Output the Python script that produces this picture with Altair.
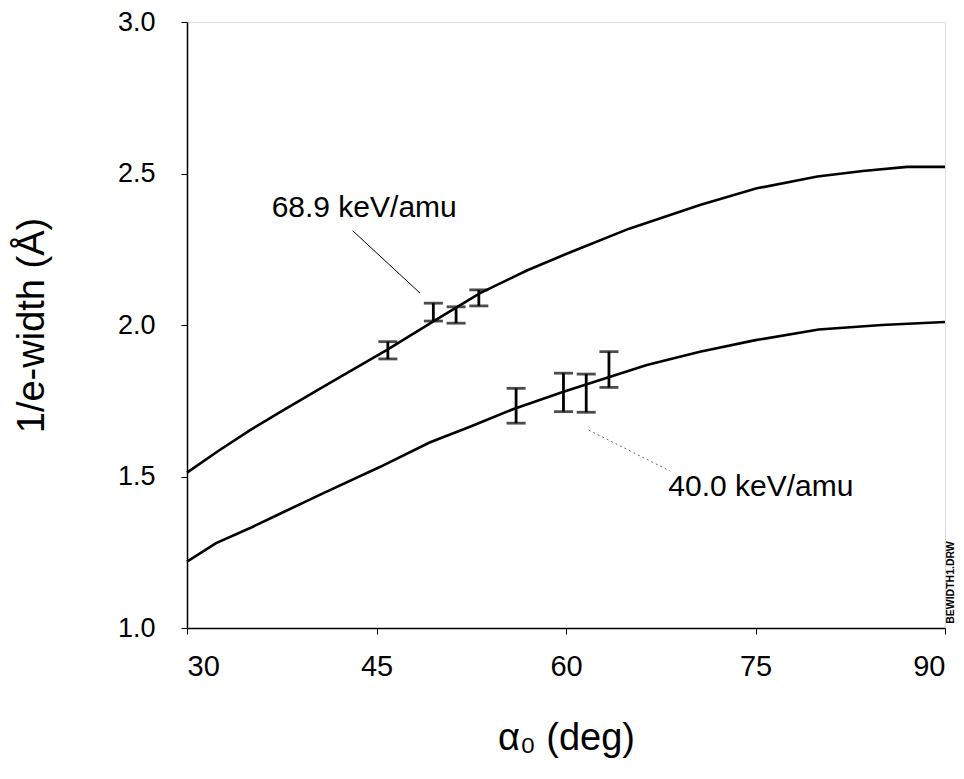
import altair as alt
import pandas as pd

# 68.9 keV/amu curve
hi_angle = [30, 32.5, 35, 37.5, 40.5, 43.4, 45.8, 49.5, 53.2, 56.9, 60.1, 65, 70.6, 75.1, 79.9, 83.5, 87.0, 90]
hi_width = [1.513, 1.585, 1.653, 1.716, 1.789, 1.859, 1.917, 2.012, 2.105, 2.18, 2.236, 2.318, 2.396, 2.451, 2.49, 2.508, 2.522, 2.522]

# 40.0 keV/amu curve
lo_angle = [30, 32.3, 35, 37.4, 40.8, 45.3, 49.2, 52.4, 55.8, 59.8, 63.5, 66.4, 70.6, 75, 80, 85, 90]
lo_width = [1.219, 1.28, 1.33, 1.378, 1.445, 1.532, 1.612, 1.664, 1.722, 1.78, 1.829, 1.868, 1.912, 1.95, 1.985, 2.0, 2.01]

# measured points with error bars
err_angle = [45.9, 49.5, 51.3, 53.1, 56.05, 59.8, 61.6, 63.4]
err_low = [1.888, 2.013, 2.006, 2.063, 1.676, 1.714, 1.712, 1.794]
err_high = [1.945, 2.072, 2.060, 2.116, 1.791, 1.841, 1.838, 1.912]

# annotations
label_text = ["68.9 keV/amu", "40.0 keV/amu"]
label_x = [36.7, 68.1]
label_y = [2.385, 1.465]
leader_x = [43.12, 61.8]
leader_y = [2.311, 1.653]
leader_x2 = [48.45, 68.2]
leader_y2 = [2.105, 1.519]

FONT = "Liberation Sans"

curves = pd.concat([
    pd.DataFrame({"angle": hi_angle, "width": hi_width, "series": "68.9"}),
    pd.DataFrame({"angle": lo_angle, "width": lo_width, "series": "40.0"}),
])
errs = pd.DataFrame({"angle": err_angle, "lo": err_low, "hi": err_high})
labels = pd.DataFrame({"text": label_text, "x": label_x, "y": label_y})
leaders = pd.DataFrame({"x": leader_x, "y": leader_y, "x2": leader_x2, "y2": leader_y2,
                        "kind": ["solid", "dotted"]})
stamp = pd.DataFrame({"text": ["BEWIDTH1.DRW"], "x": [90.45], "y": [1.15]})

xscale = alt.Scale(domain=[30, 90], nice=False, zero=False)
yscale = alt.Scale(domain=[1.0, 3.0], nice=False, zero=False)

xaxis = alt.Axis(values=[30, 45, 60, 75, 90], title="α₀ (deg)", grid=False,
                 tickSize=6, tickColor="black", domainColor="black", domainWidth=1.5,
                 labelFontSize=29, labelFont=FONT, labelColor="black", labelPadding=18,
                 titleFontSize=38, titleFont=FONT, titleFontWeight="normal", titleColor="black",
                 titlePadding=38)
yaxis = alt.Axis(values=[1.0, 1.5, 2.0, 2.5, 3.0], format=".1f", title="1/e-width (Å)", grid=False,
                 tickSize=6, tickColor="black", domainColor="black", domainWidth=1.5,
                 labelFontSize=27, labelFont=FONT, labelColor="black", labelPadding=26,
                 titleFontSize=38, titleFont=FONT, titleFontWeight="normal", titleColor="black",
                 titlePadding=66)

base_x = alt.X("angle:Q", scale=xscale, axis=xaxis)

lines = alt.Chart(curves).mark_line(color="black", strokeWidth=2.6).encode(
    x=base_x,
    y=alt.Y("width:Q", scale=yscale, axis=yaxis),
    detail="series:N",
)

bars = alt.Chart(errs).mark_rule(color="black", strokeWidth=2.8).encode(
    x=alt.X("angle:Q", scale=xscale),
    y=alt.Y("lo:Q", scale=yscale),
    y2="hi:Q",
)
cap_lo = alt.Chart(errs).mark_tick(color="black", orient="horizontal", size=19, thickness=2.8).encode(
    x=alt.X("angle:Q", scale=xscale),
    y=alt.Y("lo:Q", scale=yscale),
)
cap_hi = alt.Chart(errs).mark_tick(color="black", orient="horizontal", size=19, thickness=2.8).encode(
    x=alt.X("angle:Q", scale=xscale),
    y=alt.Y("hi:Q", scale=yscale),
)

lead_solid = alt.Chart(leaders[leaders.kind == "solid"]).mark_rule(color="black", strokeWidth=1).encode(
    x=alt.X("x:Q", scale=xscale), y=alt.Y("y:Q", scale=yscale), x2="x2:Q", y2="y2:Q")
lead_dot = alt.Chart(leaders[leaders.kind == "dotted"]).mark_rule(
    color="#666666", strokeWidth=1, strokeDash=[2, 3]).encode(
    x=alt.X("x:Q", scale=xscale), y=alt.Y("y:Q", scale=yscale), x2="x2:Q", y2="y2:Q")

texts = alt.Chart(labels).mark_text(align="left", baseline="middle", fontSize=30, font=FONT,
                                    color="black").encode(
    x=alt.X("x:Q", scale=xscale), y=alt.Y("y:Q", scale=yscale), text="text:N")

stamp_t = alt.Chart(stamp).mark_text(align="center", baseline="middle", angle=270, fontSize=10.5,
                                     font=FONT, fontWeight="bold", color="black").encode(
    x=alt.X("x:Q", scale=xscale), y=alt.Y("y:Q", scale=yscale), text="text:N")

chart = alt.layer(lines, bars, cap_lo, cap_hi, lead_solid, lead_dot, texts, stamp_t).properties(
    width=758, height=606,
    autosize=alt.AutoSizeParams(type="none"),
    padding={"left": 179, "top": 14, "right": 11, "bottom": 130},
).configure_view(stroke="black", strokeWidth=1.5).configure(background="white")

chart.save("out.html", embed_options={"renderer": "svg", "actions": False})
